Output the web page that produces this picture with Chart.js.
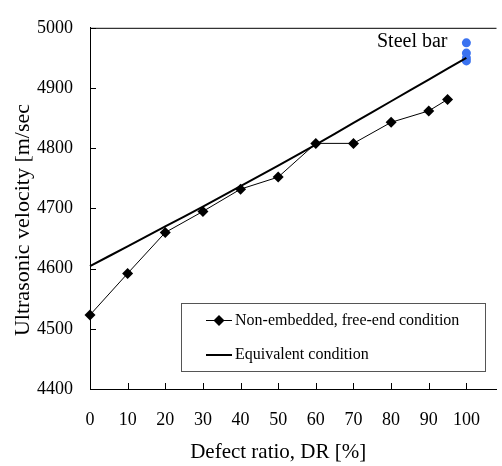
<!DOCTYPE html>
<html><head><meta charset="utf-8">
<script src="https://cdn.jsdelivr.net/npm/chart.js@4/dist/chart.umd.min.js"></script>
<style>html,body{margin:0;padding:0;background:#fff}canvas{display:block}</style>
</head><body>
<canvas id="c" width="502" height="466"></canvas>
<script>
const defectRatio = [0, 10, 20, 30, 40, 50, 60, 70, 80, 90, 95];
const nonEmbedded = [4523, 4592, 4660, 4695, 4732, 4752, 4808, 4808, 4843, 4862, 4881];
const equivX = [0, 10, 20, 30, 40, 50, 60, 70, 80, 90, 100];
const equivalent = [4604, 4637, 4670, 4703, 4737, 4771, 4806, 4842, 4878, 4914, 4950];
const steelX = [100, 100, 100, 100];
const steelBar = [4975, 4958, 4950, 4945];
const xTicks = [0, 10, 20, 30, 40, 50, 60, 70, 80, 90, 100];
const yTicks = [4400, 4500, 4600, 4700, 4800, 4900, 5000];
const labels = {
  series1: 'Non-embedded, free-end condition',
  series2: 'Equivalent condition',
  steel: 'Steel bar',
  xTitle: 'Defect ratio, DR [%]',
  yTitle: 'Ultrasonic velocity [m/sec'
};

const FONT = '"Liberation Serif", "Times New Roman", serif';
const pts = (xs, ys) => xs.map((x, i) => ({x, y: ys[i]}));

const overlay = {
  id: 'overlay',
  afterDatasetsDraw(chart) {
    const ctx = chart.ctx, a = chart.chartArea;
    const xs = chart.scales.x, ys = chart.scales.y;
    ctx.save();
    ctx.strokeStyle = '#000';
    ctx.lineWidth = 1;
    // top border
    ctx.beginPath();
    ctx.moveTo(a.left, a.top + 0.5);
    ctx.lineTo(a.right, a.top + 0.5);
    ctx.stroke();
    // inner ticks
    ctx.beginPath();
    xTicks.forEach(v => {
      if (v === 0) return;
      const px = Math.round(xs.getPixelForValue(v)) + 0.5;
      ctx.moveTo(px, a.bottom);
      ctx.lineTo(px, a.bottom - 6);
    });
    yTicks.forEach(v => {
      const py = Math.round(ys.getPixelForValue(v)) + 0.5;
      ctx.moveTo(a.left, py);
      ctx.lineTo(a.left + 6, py);
    });
    ctx.stroke();
    // Steel bar label
    ctx.fillStyle = '#000';
    ctx.font = '20px ' + FONT;
    ctx.textAlign = 'left';
    ctx.textBaseline = 'middle';
    ctx.fillText(labels.steel, 377, 42);
    // legend box
    ctx.fillStyle = '#fff';
    ctx.fillRect(181, 303, 304, 68);
    ctx.strokeStyle = '#555';
    ctx.strokeRect(181.5, 303.5, 304, 68);
    ctx.strokeStyle = '#000';
    ctx.lineWidth = 1;
    ctx.beginPath(); ctx.moveTo(206, 320.5); ctx.lineTo(232, 320.5); ctx.stroke();
    ctx.fillStyle = '#000';
    ctx.beginPath();
    ctx.moveTo(219, 315); ctx.lineTo(224.5, 320.5); ctx.lineTo(219, 326); ctx.lineTo(213.5, 320.5);
    ctx.closePath(); ctx.fill();
    ctx.lineWidth = 2;
    ctx.beginPath(); ctx.moveTo(206, 355); ctx.lineTo(232, 355); ctx.stroke();
    ctx.font = '16px ' + FONT;
    ctx.fillText(labels.series1, 235, 321);
    ctx.fillText(labels.series2, 235, 355);
    // axis titles
    ctx.font = '21px ' + FONT;
    ctx.textAlign = 'center';
    ctx.fillText(labels.xTitle, (xs.getPixelForValue(0) + xs.getPixelForValue(100)) / 2, 452);
    ctx.font = '22px ' + FONT;
    ctx.save();
    ctx.translate(23, 220);
    ctx.rotate(-Math.PI / 2);
    ctx.fillText(labels.yTitle, 0, 0);
    ctx.restore();
    ctx.restore();
  }
};

new Chart(document.getElementById('c'), {
  type: 'line',
  data: {
    datasets: [
      {
        label: labels.series2,
        data: pts(equivX, equivalent),
        borderColor: '#000', borderWidth: 2, pointRadius: 0, tension: 0.3, fill: false, clip: false
      },
      {
        label: labels.series1,
        data: pts(defectRatio, nonEmbedded),
        borderColor: '#000', backgroundColor: '#000', borderWidth: 1,
        pointStyle: 'rectRot', pointRadius: 5.5, pointBorderWidth: 0, tension: 0, fill: false, clip: false
      },
      {
        label: labels.steel,
        data: pts(steelX, steelBar),
        showLine: false, pointStyle: 'circle', pointRadius: 4.5,
        backgroundColor: '#3a72f0', borderColor: '#3a72f0', pointBorderWidth: 0, clip: false
      }
    ]
  },
  options: {
    responsive: false,
    animation: false,
    devicePixelRatio: 1,
    layout: { padding: { top: 15, right: 0, left: 0, bottom: 0 } },
    plugins: { legend: { display: false }, tooltip: { enabled: false } },
    scales: {
      x: {
        type: 'linear', min: 0, max: 108,
        afterBuildTicks: s => { s.ticks = xTicks.map(v => ({value: v})); },
        afterFit: s => { s.height = 77; },
        grid: { display: true, drawOnChartArea: false, drawTicks: false },
        border: { display: true, color: '#000', width: 1 },
        ticks: { color: '#000', font: { family: FONT, size: 18 }, padding: 20, maxRotation: 0, autoSkip: false,
                 callback: v => String(v) }
      },
      y: {
        min: 4400, max: 5000,
        afterBuildTicks: s => { s.ticks = yTicks.map(v => ({value: v})); },
        afterFit: s => { s.width = 90; },
        grid: { display: true, drawOnChartArea: false, drawTicks: false },
        border: { display: true, color: '#000', width: 1 },
        ticks: { color: '#000', font: { family: FONT, size: 18 }, padding: 17,
                 callback: v => String(v) }
      }
    }
  },
  plugins: [overlay]
});
</script>
</body></html>
